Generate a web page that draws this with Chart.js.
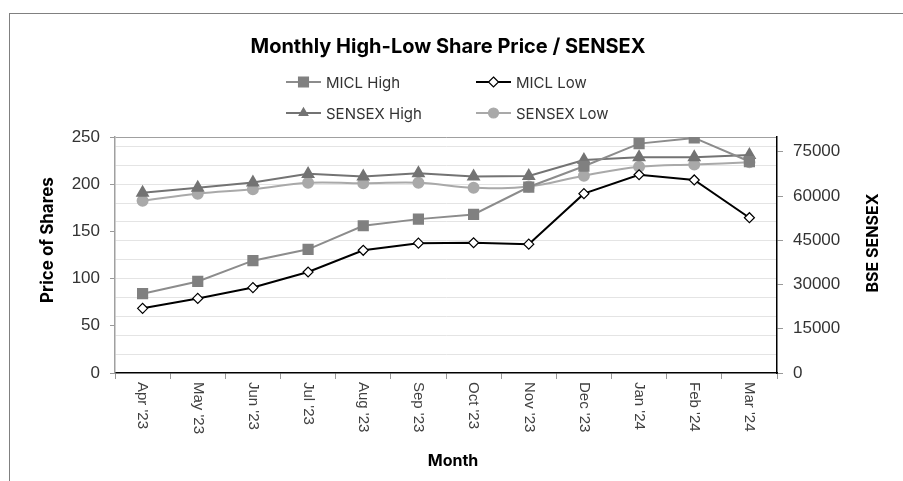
<!DOCTYPE html>
<html>
<head>
<meta charset="utf-8">
<script src="https://cdn.jsdelivr.net/npm/chart.js@4.4.1/dist/chart.umd.min.js"></script>
<style>
  body { margin: 0; background: #fff; }
  #frame {
    position: absolute; left: 9px; top: 13px; width: 894px; height: 468px;
    border-top: 1px solid #808080; border-left: 1px solid #808080;
  }
  #chart { position: absolute; left: 0; top: 0; }
</style>
</head>
<body>
<div id="frame"><canvas id="chart" width="893" height="467"></canvas></div>
<script>
// Data
const months = ["Apr '23", "May '23", "Jun '23", "Jul '23", "Aug '23", "Sep '23",
                "Oct '23", "Nov '23", "Dec '23", "Jan '24", "Feb '24", "Mar '24"];
const miclHigh = [84, 97, 119, 131, 156, 163, 168, 197, 219, 243, 249, 224];
const miclLow = [68.5, 79, 90.5, 107, 130, 137.5, 138, 136.5, 190, 210, 204.5, 164.5];
const sensexHigh = [61100, 62800, 64600, 67500, 66600, 67700, 66600, 66800, 72200, 73100, 73100, 73900];
const sensexLow = [58400, 60800, 62300, 64500, 64300, 64500, 62800, 63200, 66900, 69900, 70700, 71400];
const seriesNames = ["MICL High", "MICL Low", "SENSEX High", "SENSEX Low"];
const rightTicks = [0, 15000, 30000, 45000, 60000, 75000];

const chartTitle = "Monthly High-Low Share Price / SENSEX";
const leftTitle = "Price of Shares";
const rightTitle = "BSE SENSEX";
const xTitle = "Month";

const tickFont = '"Liberation Sans", Arial, sans-serif';
const textFont = 'Inter, "Noto Sans", sans-serif';

// small marker painter for the legend
function drawMarker(ctx, style, x, y, r, fill, stroke) {
  ctx.beginPath();
  if (style === "rect") {
    const s = r * Math.SQRT1_2;
    ctx.rect(x - s, y - s, 2 * s, 2 * s);
  } else if (style === "rectRot") {
    ctx.moveTo(x, y - r); ctx.lineTo(x + r, y); ctx.lineTo(x, y + r); ctx.lineTo(x - r, y); ctx.closePath();
  } else if (style === "triangle") {
    ctx.moveTo(x, y - r); ctx.lineTo(x + r * 0.87, y + r * 0.5); ctx.lineTo(x - r * 0.87, y + r * 0.5); ctx.closePath();
  } else {
    ctx.arc(x, y, r, 0, Math.PI * 2);
  }
  ctx.fillStyle = fill; ctx.fill();
  ctx.lineWidth = 1.2; ctx.strokeStyle = stroke; ctx.stroke();
}

// titles, rotated month labels and the two-column legend
const decor = {
  id: "decor",
  afterDraw(chart) {
    const { ctx, chartArea } = chart;
    const xs = chart.scales.x;
    ctx.save();

    ctx.fillStyle = "#000";
    ctx.textAlign = "center";
    ctx.textBaseline = "middle";
    ctx.font = "bold 20px " + textFont;
    ctx.fillText(chartTitle, 438, 33);

    ctx.font = "bold 16px " + textFont;
    ctx.fillText(xTitle, 443, 447);

    ctx.save();
    ctx.translate(38, 226);
    ctx.rotate(-Math.PI / 2);
    ctx.font = "bold 17px " + textFont;
    ctx.fillText(leftTitle, 0, 0);
    ctx.restore();

    ctx.save();
    ctx.translate(863, 229);
    ctx.rotate(-Math.PI / 2);
    ctx.font = "bold 16px " + textFont;
    ctx.fillText(rightTitle, 0, 0);
    ctx.restore();

    // month labels, reading top to bottom
    ctx.font = "15px " + tickFont;
    ctx.fillStyle = "#404040";
    months.forEach((m, i) => {
      const x = xs.getPixelForTick(i);
      ctx.save();
      ctx.translate(x, chartArea.bottom + 9);
      ctx.rotate(Math.PI / 2);
      ctx.textAlign = "left";
      ctx.textBaseline = "middle";
      ctx.fillText(m, 0, 0);
      ctx.restore();
    });

    // legend
    const cols = [276, 466];
    const rows = [68, 99];
    chart.data.datasets.forEach((ds, i) => {
      const x0 = cols[i % 2];
      const y = rows[Math.floor(i / 2)];
      ctx.beginPath();
      ctx.moveTo(x0, y); ctx.lineTo(x0 + 35, y);
      ctx.lineWidth = 2; ctx.strokeStyle = ds.borderColor; ctx.stroke();
      drawMarker(ctx, ds.pointStyle, x0 + 17.5, y, ds.pointStyle === "rect" ? 7 : 5,
                 ds.pointBackgroundColor, ds.pointBorderColor);
      ctx.font = "15px " + textFont;
      ctx.fillStyle = "#333";
      ctx.textAlign = "left";
      ctx.fillText(ds.label, x0 + 40, y + 1);
    });
    ctx.restore();
  }
};

new Chart(document.getElementById("chart"), {
  type: "line",
  data: {
    labels: months,
    datasets: [
      {
        label: seriesNames[0], data: miclHigh, yAxisID: "y",
        borderColor: "#8c8c8c", borderWidth: 2,
        pointStyle: "rect", pointRadius: 6.5,
        pointBackgroundColor: "#808080", pointBorderColor: "#808080"
      },
      {
        label: seriesNames[1], data: miclLow, yAxisID: "y",
        borderColor: "#000", borderWidth: 2,
        pointStyle: "rectRot", pointRadius: 5,
        pointBackgroundColor: "#fff", pointBorderColor: "#000", pointBorderWidth: 1.2
      },
      {
        label: seriesNames[2], data: sensexHigh, yAxisID: "y1",
        borderColor: "#737373", borderWidth: 2,
        pointStyle: "triangle", pointRadius: 6,
        pointBackgroundColor: "#737373", pointBorderColor: "#737373"
      },
      {
        label: seriesNames[3], data: sensexLow, yAxisID: "y1",
        borderColor: "#a9a9a9", borderWidth: 2, tension: 0.4,
        pointStyle: "circle", pointRadius: 5,
        pointBackgroundColor: "#a9a9a9", pointBorderColor: "#a9a9a9"
      }
    ]
  },
  options: {
    responsive: false,
    animation: false,
    layout: { padding: { top: 123, left: 0, right: 0, bottom: 0 } },
    plugins: {
      legend: { display: false },
      title: { display: false },
      tooltip: { enabled: false }
    },
    scales: {
      x: {
        offset: true,
        afterFit: s => { s.height = 108; },
        grid: { offset: true, drawOnChartArea: false, color: "#999", tickLength: 6 },
        border: { color: "#000", width: 1.5 },
        ticks: { display: false }
      },
      y: {
        position: "left",
        min: 0, max: 250,
        afterFit: s => { s.width = 105; },
        ticks: {
          stepSize: 10, autoSkip: false, padding: 10,
          color: "#333", font: { family: tickFont, size: 17 },
          callback: v => (v % 50 === 0 ? v : "")
        },
        grid: {
          tickLength: 5,
          color: c => (c.tick.value === 250 ? "#a0a0a0" : (c.tick.value % 20 === 0 && c.tick.value > 0 ? "#e4e4e4" : "transparent")),
          tickColor: c => (c.tick.value % 50 === 0 ? "#999" : "transparent")
        },
        border: { color: "#a0a0a0", width: 1.5 }
      },
      y1: {
        position: "right",
        min: 0, max: 80000,
        afterBuildTicks: s => { s.ticks = rightTicks.map(v => ({ value: v })); },
        afterFit: s => { s.width = 126; },
        ticks: {
          autoSkip: false, padding: 10,
          color: "#333", font: { family: tickFont, size: 17 },
          callback: v => String(v)
        },
        grid: { drawOnChartArea: false, tickLength: 6, color: "#999" },
        border: { color: "#000", width: 1.5 }
      }
    }
  },
  plugins: [decor]
});
</script>
</body>
</html>
